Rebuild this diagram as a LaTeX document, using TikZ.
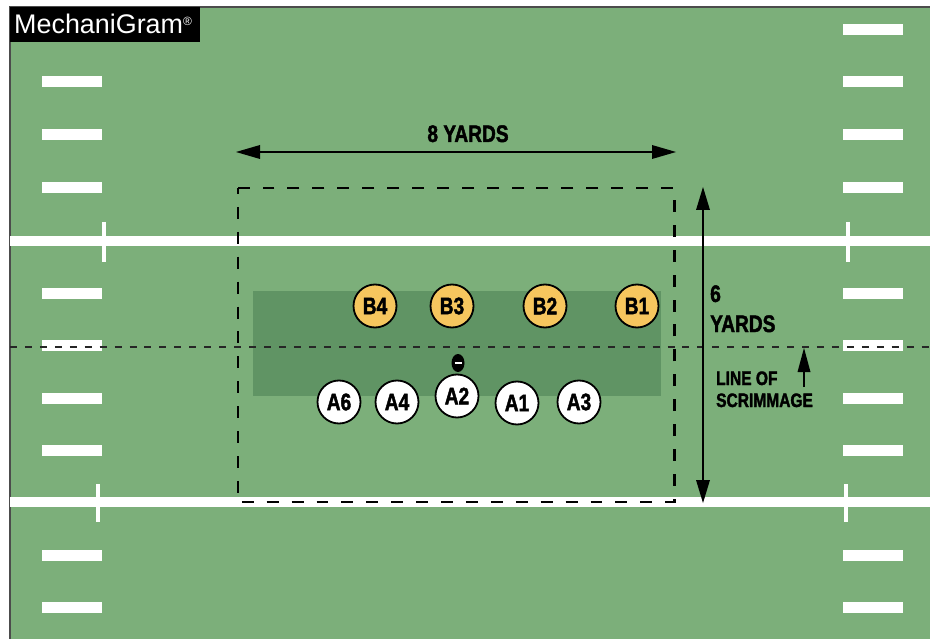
\documentclass[tikz,border=0pt]{standalone}
\usepackage{fontspec}
\setmainfont{Liberation Sans}
\newfontfamily\condbold{Liberation Sans Bold}[FakeStretch=0.8,FakeBold=1.8]
\usepackage{tikz}

\definecolor{turf}{RGB}{124,175,122}
\definecolor{band}{RGB}{96,148,100}
\definecolor{defgold}{RGB}{246,198,94}

\begin{document}
\begin{tikzpicture}[x=1bp,y=1bp,
    player/.style={circle, draw=black, line width=1.8bp, minimum size=43bp, font=\condbold\fontsize{24}{24}\selectfont},
    defense/.style={player, fill=defgold},
    offense/.style={player, fill=white},
    label/.style={font=\condbold\fontsize{24}{24}\selectfont},
    small label/.style={font=\condbold\fontsize{19.5}{19.5}\selectfont}]
    \tikzstyle{every node}+=[inner sep=0pt]
    \useasboundingbox (0,0) rectangle (930,-639);
    \fill [white] (0,0) rectangle (930,-639);
    % field
    \fill [turf] (10,-7) rectangle (930,-639);
    \draw [black!70, line width=2] (10,-639) -- (10,-7) -- (930,-7);
    % yard lines and ticks
    \draw [white, line width=10] (10,-241) -- (930,-241);
    \draw [white, line width=10] (10,-502) -- (930,-502);
    \draw [white, line width=4] (104,-222) -- (104,-262);
    \draw [white, line width=4] (848,-222) -- (848,-262);
    \draw [white, line width=4] (98,-484) -- (98,-522);
    \draw [white, line width=4] (846,-484) -- (846,-522);
    % hash marks
    \foreach \y in {30,82,135,188,293,345,398,450,555,607} {
        \fill [white] (42,-\y+5.5) rectangle (102,-\y-5.5);
        \fill [white] (843,-\y+5.5) rectangle (903,-\y-5.5);
    }
    % neutral zone
    \fill [band] (253,-291) rectangle (661,-396);
    % line of scrimmage
    \draw [black!85, line width=2.5, dash pattern=on 7 off 8] (10,-347) -- (930,-347);
    % 8 x 6 yard area
    \draw [black, line width=3, dash pattern=on 12 off 13, dash phase=6] (238,-188) rectangle (674,-502);
    % logo
    \fill [black] (10,-7) rectangle (200,-42);
    \node [white, anchor=base west, font=\fontsize{27}{27}\selectfont] (logo) at (14,-34) {MechaniGram\textsuperscript{\fontsize{12}{12}\selectfont\textregistered}};
    % dimensions
    \coordinate (wideL) at (236,-152);
    \coordinate (wideR) at (676,-152);
    \draw [black, line width=2.5, shorten <=12, shorten >=12] (wideL) -- (wideR);
    \fill [black] (wideL) -- ++(24,7) -- ++(0,-14) -- cycle;
    \fill [black] (wideR) -- ++(-24,7) -- ++(0,-14) -- cycle;
    \node [label, anchor=base] (wide) at (468,-142) {8 YARDS};
    \coordinate (deepT) at (703,-187);
    \coordinate (deepB) at (703,-503);
    \draw [black, line width=2.5, shorten <=12, shorten >=12] (deepT) -- (deepB);
    \fill [black] (deepT) -- ++(-7,-23) -- ++(14,0) -- cycle;
    \fill [black] (deepB) -- ++(-7,23) -- ++(14,0) -- cycle;
    \node [label, anchor=base west] (six) at (710,-302) {6};
    \node [label, anchor=base west] (yards) at (710,-332) {YARDS};
    \node [small label, anchor=base west] (lineof) at (716,-385) {LINE OF};
    \node [small label, anchor=base west] (scrim) at (716,-407) {SCRIMMAGE};
    \coordinate (losT) at (804,-348);
    \coordinate (losB) at (804,-387);
    \draw [black, line width=2.5, shorten >=10] (losB) -- (losT);
    \fill [black] (losT) -- ++(-6.5,-24) -- ++(13,0) -- cycle;
    % players
    \node [defense] (B4) at (375,-306) {B4};
    \node [defense] (B3) at (452,-306) {B3};
    \node [defense] (B2) at (545,-306) {B2};
    \node [defense] (B1) at (637,-306) {B1};
    \node [offense] (A6) at (339,-402) {A6};
    \node [offense] (A4) at (397,-402) {A4};
    \node [offense] (A2) at (457,-396) {A2};
    \node [offense] (A1) at (517,-403) {A1};
    \node [offense] (A3) at (579,-402) {A3};
    % ball
    \fill [black] (458,-363) ellipse (6.5 and 9);
    \draw [white, line width=1.2] (454.5,-363) -- (461.5,-363);
\end{tikzpicture}
\end{document}
